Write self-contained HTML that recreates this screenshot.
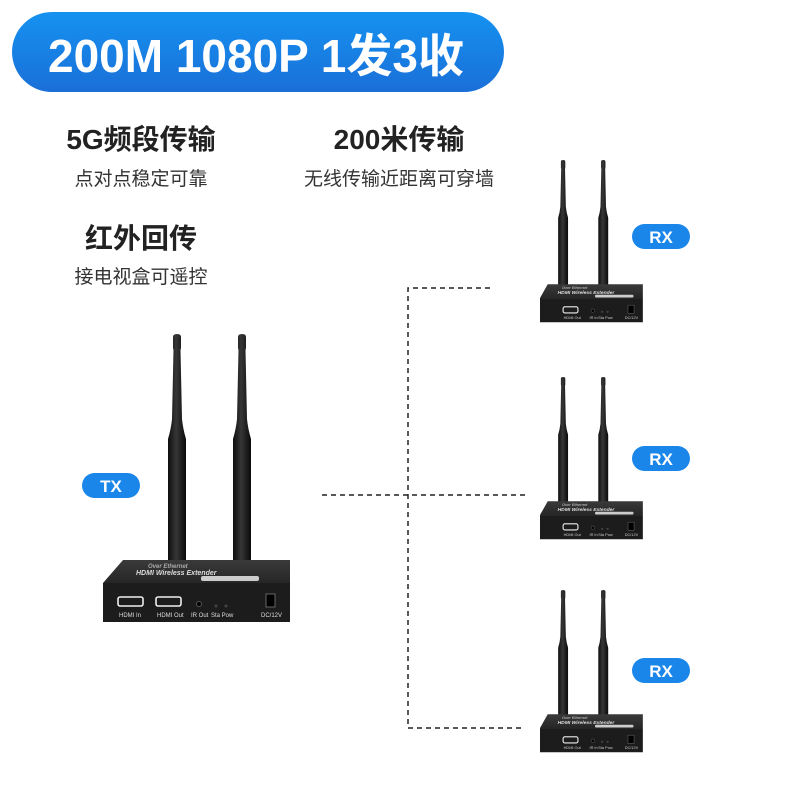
<!DOCTYPE html>
<html><head><meta charset="utf-8"><style>
html,body{margin:0;padding:0;background:#fff;width:800px;height:800px;overflow:hidden}
text{font-family:"Liberation Sans","Noto Sans CJK SC",sans-serif}
</style></head><body>
<svg width="800" height="800" viewBox="0 0 800 800" xmlns="http://www.w3.org/2000/svg">
<defs>
<linearGradient id="hg" x1="0" y1="0" x2="0" y2="1"><stop offset="0" stop-color="#1592f0"/><stop offset="1" stop-color="#1a6fd8"/></linearGradient>
<linearGradient id="ant" x1="0" y1="0" x2="1" y2="0"><stop offset="0" stop-color="#0e0e0e"/><stop offset="0.45" stop-color="#363636"/><stop offset="1" stop-color="#0a0a0a"/></linearGradient>
<linearGradient id="top" x1="0" y1="0" x2="0" y2="1"><stop offset="0" stop-color="#3a3a3a"/><stop offset="1" stop-color="#262626"/></linearGradient>
<g id="body">
<polygon points="20,0 187,0 187,23 0,23" fill="url(#top)"/>
<rect x="0" y="23" width="187" height="39" fill="#1c1c1c"/>
<text x="45" y="8" font-size="6" fill="#aaa" font-weight="bold" font-style="italic">Over Ethernet</text>
<text x="33" y="15" font-size="7" fill="#ddd" font-weight="bold" font-style="italic">HDMI Wireless Extender</text>
<rect x="98" y="16" width="58" height="5" rx="2" fill="#ccc"/>
<rect x="15" y="37" width="25" height="9" rx="2" fill="none" stroke="#eee" stroke-width="1.6"/>
<rect x="53" y="37" width="25" height="9" rx="2" fill="none" stroke="#eee" stroke-width="1.6"/>
<circle cx="96" cy="44" r="2.5" fill="#000" stroke="#555"/>
<circle cx="113" cy="46" r="1.5" fill="#444"/><circle cx="123" cy="46" r="1.5" fill="#444"/>
<rect x="163" y="34" width="9" height="13" fill="#000" stroke="#666"/>
<text x="16" y="57" font-size="6" fill="#ddd">HDMI In</text>
<text x="54" y="57" font-size="6" fill="#ddd">HDMI Out</text>
<text x="88" y="57" font-size="6" fill="#ddd">IR Out</text>
<text x="108" y="57" font-size="6" fill="#ddd">Sta Pow</text>
<text x="158" y="57" font-size="6" fill="#ddd">DC/12V</text>
</g>
<g id="rxbody">
<polygon points="14,0 187,0 187,25 0,25" fill="url(#top)"/>
<rect x="0" y="25" width="187" height="44" fill="#1c1c1c"/>
<text x="40" y="9" font-size="7" fill="#aaa" font-weight="bold" font-style="italic">Over Ethernet</text>
<text x="32" y="18" font-size="9" fill="#ddd" font-weight="bold" font-style="italic">HDMI Wireless Extender</text>
<rect x="100" y="19" width="70" height="5" rx="2" fill="#ccc"/>
<rect x="42" y="41" width="27" height="11" rx="3" fill="none" stroke="#eee" stroke-width="2"/>
<circle cx="96" cy="48" r="3" fill="#000" stroke="#555"/>
<circle cx="113" cy="50" r="2" fill="#444"/><circle cx="123" cy="50" r="2" fill="#444"/>
<rect x="160" y="38" width="11" height="15" fill="#000" stroke="#666"/>
<text x="43" y="63" font-size="7" fill="#ccc">HDMI Out</text>
<text x="90" y="63" font-size="7" fill="#ccc">IR In</text>
<text x="106" y="63" font-size="7" fill="#ccc">Sta Pow</text>
<text x="154" y="63" font-size="7" fill="#ccc">DC/12V</text>
</g>
<g id="antA"><path d="M-4,3 Q-4,0 0,0 Q4,0 4,3 L4,14 L3.5,16 L5,85 Q6,95 9,105 L9,228 L-9,228 L-9,105 Q-6,95 -5,85 L-3.5,16 L-4,14 Z" fill="url(#ant)"/></g>
</defs>
<rect x="12" y="12" width="492" height="80" rx="40" fill="url(#hg)"/>
<text x="48" y="72" font-size="46" font-weight="bold" fill="#fff">200M 1080P 1发3收</text>
<g fill="#222" text-anchor="middle">
<text x="141" y="149" font-size="28" font-weight="bold">5G频段传输</text>
<text x="141" y="185" font-size="19" fill="#333">点对点稳定可靠</text>
<text x="399" y="149" font-size="28" font-weight="bold">200米传输</text>
<text x="399" y="185" font-size="19" fill="#333">无线传输近距离可穿墙</text>
<text x="141" y="248" font-size="28" font-weight="bold">红外回传</text>
<text x="141" y="283" font-size="19" fill="#333">接电视盒可遥控</text>
</g>
<g stroke="#222" stroke-width="1.5" stroke-dasharray="5,4" fill="none">
<path d="M490 288 H408 V728 H525"/>
<path d="M322 495 H525"/>
</g>
<use href="#antA" transform="translate(177,334)"/>
<use href="#antA" transform="translate(242,334)"/>
<use href="#body" transform="translate(103,560)"/>
<g transform="translate(540,160) scale(0.55)"><use href="#antA" transform="translate(42,0)"/><use href="#antA" transform="translate(115,0)"/><use href="#rxbody" transform="translate(0,226)"/></g>
<g transform="translate(540,377) scale(0.55)"><use href="#antA" transform="translate(42,0)"/><use href="#antA" transform="translate(115,0)"/><use href="#rxbody" transform="translate(0,226)"/></g>
<g transform="translate(540,590) scale(0.55)"><use href="#antA" transform="translate(42,0)"/><use href="#antA" transform="translate(115,0)"/><use href="#rxbody" transform="translate(0,226)"/></g>
<g font-size="17" font-weight="bold" fill="#fff" text-anchor="middle">
<rect x="82" y="473" width="58" height="25" rx="12.5" fill="#1a86ea"/><text x="111" y="492">TX</text>
<rect x="632" y="224" width="58" height="25" rx="12.5" fill="#1a86ea"/><text x="661" y="243">RX</text>
<rect x="632" y="446" width="58" height="25" rx="12.5" fill="#1a86ea"/><text x="661" y="465">RX</text>
<rect x="632" y="658" width="58" height="25" rx="12.5" fill="#1a86ea"/><text x="661" y="677">RX</text>
</g>
</svg>
</body></html>
